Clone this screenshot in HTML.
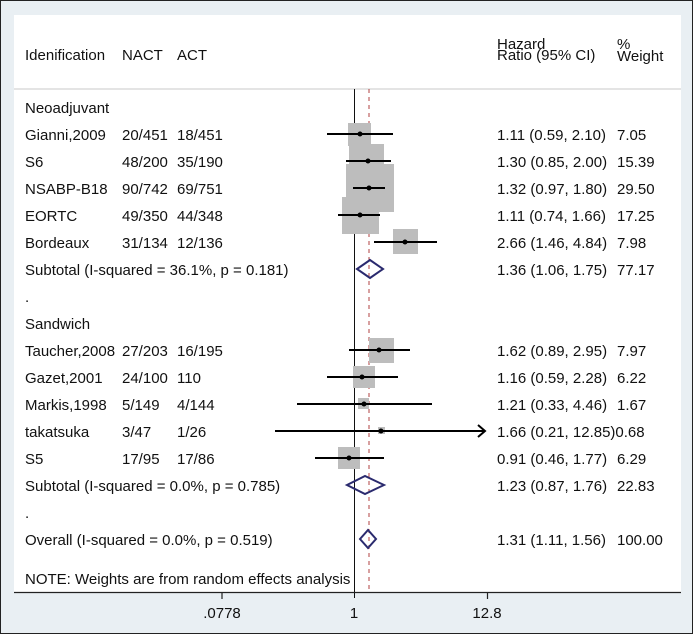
<!DOCTYPE html>
<html><head><meta charset="utf-8"><style>
html,body{margin:0;padding:0;background:#e9eff3}
svg{display:block}
text{font-family:"Liberation Sans",sans-serif;font-size:15px;fill:#111}
</style></head><body>
<svg width="693" height="634" viewBox="0 0 693 634" xmlns="http://www.w3.org/2000/svg">
<rect x="0.5" y="0.5" width="692" height="633" fill="#e9eff3" stroke="#222" stroke-width="1"/>
<rect x="14" y="15" width="667" height="577" fill="#fff"/>
<line x1="14" y1="89" x2="681" y2="89" stroke="#c8c8c8" stroke-width="1"/>
<!-- header -->
<text x="25" y="60">Idenification</text>
<text x="122" y="60">NACT</text>
<text x="177" y="60">ACT</text>
<text x="497" y="49">Hazard</text>
<text x="497" y="60">Ratio (95% CI)</text>
<text x="617" y="49">%</text>
<text x="617" y="61">Weight</text>
<!-- lines -->
<line x1="354.5" y1="89" x2="354.5" y2="598" stroke="#111" stroke-width="1"/>
<line x1="369" y1="89" x2="369" y2="592" stroke="#b04040" stroke-width="1" stroke-dasharray="4,4"/>
<!-- boxes -->
<g fill="#bdbdbd">
<rect x="348" y="123" width="23" height="23"/>
<rect x="349" y="144" width="35" height="35"/>
<rect x="346" y="164" width="48" height="48"/>
<rect x="342" y="197" width="37" height="37"/>
<rect x="393" y="229" width="25" height="25"/>
<rect x="369" y="338" width="25" height="25"/>
<rect x="353" y="366" width="22" height="22"/>
<rect x="358" y="398" width="11" height="11"/>
<rect x="378" y="427" width="7" height="7"/>
<rect x="338" y="447" width="22" height="22"/>
</g>
<g stroke="#000" stroke-width="2">
<line x1="327" y1="134" x2="393" y2="134"/>
<line x1="346" y1="161" x2="391" y2="161"/>
<line x1="353" y1="188" x2="385" y2="188"/>
<line x1="338" y1="215" x2="380" y2="215"/>
<line x1="374" y1="242" x2="437" y2="242"/>
<line x1="349" y1="350" x2="410" y2="350"/>
<line x1="327" y1="377" x2="398" y2="377"/>
<line x1="297" y1="404" x2="432" y2="404"/>
<line x1="275" y1="431" x2="485" y2="431"/>
<polyline points="478,425 485,431 478,437" fill="none"/>
<line x1="315" y1="458" x2="384" y2="458"/>
</g>
<g fill="#000">
<circle cx="360" cy="134" r="2.5"/><circle cx="368" cy="161" r="2.5"/><circle cx="369" cy="188" r="2.5"/>
<circle cx="360" cy="215" r="2.5"/><circle cx="405" cy="242" r="2.5"/><circle cx="379" cy="350" r="2.5"/>
<circle cx="362" cy="377" r="2.5"/><circle cx="364" cy="404" r="2.5"/><circle cx="381" cy="431" r="2.5"/>
<circle cx="349" cy="458" r="2.5"/>
</g>
<g fill="none" stroke="#2a2a6e" stroke-width="2">
<polygon points="357,269 370,260 383,269 370,278"/>
<polygon points="347,485 365,476 384,485 365,494"/>
<polygon points="360,539 368,530 376,539 368,548"/>
</g>
<!-- labels -->
<g>
<text x="25" y="113">Neoadjuvant</text>
<text x="25" y="140">Gianni,2009</text><text x="122" y="140">20/451</text><text x="177" y="140">18/451</text><text x="497" y="140">1.11 (0.59, 2.10)</text><text x="617" y="140">7.05</text>
<text x="25" y="167">S6</text><text x="122" y="167">48/200</text><text x="177" y="167">35/190</text><text x="497" y="167">1.30 (0.85, 2.00)</text><text x="617" y="167">15.39</text>
<text x="25" y="194">NSABP-B18</text><text x="122" y="194">90/742</text><text x="177" y="194">69/751</text><text x="497" y="194">1.32 (0.97, 1.80)</text><text x="617" y="194">29.50</text>
<text x="25" y="221">EORTC</text><text x="122" y="221">49/350</text><text x="177" y="221">44/348</text><text x="497" y="221">1.11 (0.74, 1.66)</text><text x="617" y="221">17.25</text>
<text x="25" y="248">Bordeaux</text><text x="122" y="248">31/134</text><text x="177" y="248">12/136</text><text x="497" y="248">2.66 (1.46, 4.84)</text><text x="617" y="248">7.98</text>
<text x="25" y="275">Subtotal  (I-squared = 36.1%, p = 0.181)</text><text x="497" y="275">1.36 (1.06, 1.75)</text><text x="617" y="275">77.17</text>
<text x="25" y="302">.</text>
<text x="25" y="329">Sandwich</text>
<text x="25" y="356">Taucher,2008</text><text x="122" y="356">27/203</text><text x="177" y="356">16/195</text><text x="497" y="356">1.62 (0.89, 2.95)</text><text x="617" y="356">7.97</text>
<text x="25" y="383">Gazet,2001</text><text x="122" y="383">24/100</text><text x="177" y="383">110</text><text x="497" y="383">1.16 (0.59, 2.28)</text><text x="617" y="383">6.22</text>
<text x="25" y="410">Markis,1998</text><text x="122" y="410">5/149</text><text x="177" y="410">4/144</text><text x="497" y="410">1.21 (0.33, 4.46)</text><text x="617" y="410">1.67</text>
<text x="25" y="437">takatsuka</text><text x="122" y="437">3/47</text><text x="177" y="437">1/26</text><text x="497" y="437">1.66 (0.21, 12.85)0.68</text>
<text x="25" y="464">S5</text><text x="122" y="464">17/95</text><text x="177" y="464">17/86</text><text x="497" y="464">0.91 (0.46, 1.77)</text><text x="617" y="464">6.29</text>
<text x="25" y="491">Subtotal  (I-squared = 0.0%, p = 0.785)</text><text x="497" y="491">1.23 (0.87, 1.76)</text><text x="617" y="491">22.83</text>
<text x="25" y="518">.</text>
<text x="25" y="545">Overall  (I-squared = 0.0%, p = 0.519)</text><text x="497" y="545">1.31 (1.11, 1.56)</text><text x="617" y="545">100.00</text>
<text x="25" y="584">NOTE: Weights are from random effects analysis</text>
</g>
<!-- axis -->
<line x1="14" y1="592.5" x2="681" y2="592.5" stroke="#222" stroke-width="1.2"/>
<g stroke="#222" stroke-width="1.2">
<line x1="222" y1="592" x2="222" y2="599"/>
<line x1="487.5" y1="592" x2="487.5" y2="599"/>
</g>
<text x="222" y="618" text-anchor="middle">.0778</text>
<text x="354" y="618" text-anchor="middle">1</text>
<text x="487" y="618" text-anchor="middle">12.8</text>
</svg>
</body></html>
